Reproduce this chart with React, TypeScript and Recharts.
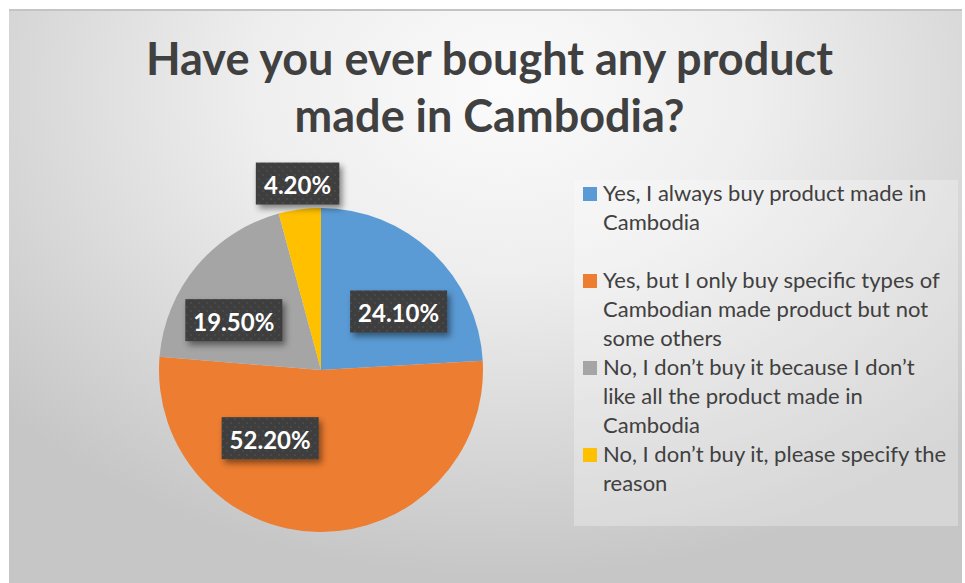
import { PieChart, Pie, Cell, Legend } from "recharts";

const categories = [
  "Yes, I always buy product made in\nCambodia",
  "Yes, but I only buy specific types of\nCambodian made product but not\nsome others",
  "No, I don\u2019t buy it because I don\u2019t\nlike all the product made in\nCambodia",
  "No, I don\u2019t buy it, please specify the\nreason",
];
const shares = [24.1, 52.2, 19.5, 4.2];
const colors = ["#5b9bd5", "#ed7d31", "#a5a5a5", "#ffc000"];
const titleLines = ["Have you ever bought any product", "made in Cambodia?"];

// where Excel's "best fit" put each data label: radius factor + clockwise angle nudge
const labelPlacement = [
  { r: 0.6, turn: 9.6 },
  { r: 0.525, turn: 36 },
  { r: 0.62, turn: -10 },
  { r: 1.16, turn: 0.4 },
];

const FONT = "Lato, 'Open Sans', sans-serif";
const RADIAN = Math.PI / 180;

const data = categories.map((name, i) => ({ name, value: shares[i] }));

function renderLabel(props: any) {
  const { cx, cy, midAngle, outerRadius, value, index } = props;
  const place = labelPlacement[index];
  const angle = (midAngle - place.turn) * RADIAN;
  const d = outerRadius * place.r;
  const x = cx + d * Math.cos(angle);
  const y = cy - d * Math.sin(angle);
  const text = `${value.toFixed(2)}%`;
  const w = 16 + text.length * 13.5;
  const h = 42;
  const pid = `dots-${index}`;
  return (
    <g key={pid}>
      <defs>
        <pattern id={pid} width="8" height="8" patternUnits="userSpaceOnUse">
          <rect width="8" height="8" fill="#3e3e3e" />
          <circle cx="2" cy="2" r="1" fill="#4c4c4c" />
          <circle cx="6" cy="6" r="1" fill="#4c4c4c" />
        </pattern>
      </defs>
      <rect
        x={x - w / 2}
        y={y - h / 2}
        width={w}
        height={h}
        fill={`url(#${pid})`}
        style={{ filter: "drop-shadow(3px 4px 3px rgba(0,0,0,0.45))" }}
      />
      <text
        x={x}
        y={y + 1}
        textAnchor="middle"
        dominantBaseline="central"
        fill="#ffffff"
        fontFamily={FONT}
        fontWeight={700}
        fontSize={24}
      >
        {text}
      </text>
    </g>
  );
}

function LegendBox(props: any) {
  // keep the sheet's order rather than the legend's alphabetical sort
  const items = [...(props.payload || [])].sort(
    (a: any, b: any) => categories.indexOf(a.value) - categories.indexOf(b.value)
  );
  return (
    <div
      style={{
        width: 384,
        height: 346,
        background: "rgba(255,255,255,0.28)",
        fontFamily: FONT,
        fontSize: 22,
        color: "#404040",
        boxSizing: "border-box",
      }}
    >
      <div style={{ paddingTop: 0 }}>
        {items.map((entry: any, i: number) => (
          <div key={i} style={{ position: "relative", height: 87 }}>
            <span
              style={{
                position: "absolute",
                left: 9,
                top: 7,
                width: 14,
                height: 14,
                background: entry.color,
              }}
            />
            <div
              style={{
                position: "absolute",
                left: 29,
                top: -2,
                lineHeight: "29px",
                whiteSpace: "pre",
              }}
            >
              {entry.value}
            </div>
          </div>
        ))}
      </div>
    </div>
  );
}

export default function App() {
  return (
    <div
      style={{
        position: "absolute",
        left: 9,
        top: 9,
        width: 953,
        height: 574,
        background:
          "radial-gradient(ellipse 70% 85% at 52% 14%, #fbfbfb 0%, #eeeeee 38%, #d8d8d8 72%, #c6c6c6 100%)",
        overflow: "hidden",
      }}
    >
      <style>{`.recharts-pie-sectors { filter: drop-shadow(0 5px 9px rgba(0,0,0,0.28)); }`}</style>
      <div style={{ position: "absolute", left: 0, top: 0, width: 953, height: 2, background: "#c4c4c4" }} />
      <div
        style={{
          position: "absolute",
          left: 4,
          top: 21,
          width: 953,
          textAlign: "center",
          fontFamily: FONT,
          fontWeight: 700,
          fontSize: 45,
          lineHeight: "57px",
          color: "#404040",
        }}
      >
        {titleLines.map((t) => (
          <div key={t}>{t}</div>
        ))}
      </div>
      <PieChart width={953} height={574} margin={{ top: 0, right: 0, bottom: 0, left: 0 }}>
        <Pie
          data={data}
          dataKey="value"
          nameKey="name"
          cx={312}
          cy={361}
          outerRadius={162}
          startAngle={90}
          endAngle={-270}
          stroke="none"
          label={renderLabel}
          labelLine={false}
          isAnimationActive={false}
        >
          {data.map((d, i) => (
            <Cell key={d.name} fill={colors[i]} />
          ))}
        </Pie>
        <Legend
          layout="vertical"
          align="right"
          verticalAlign="top"
          content={<LegendBox />}
          wrapperStyle={{ left: 565, top: 171, width: 384, height: 346 }}
        />
      </PieChart>
    </div>
  );
}
